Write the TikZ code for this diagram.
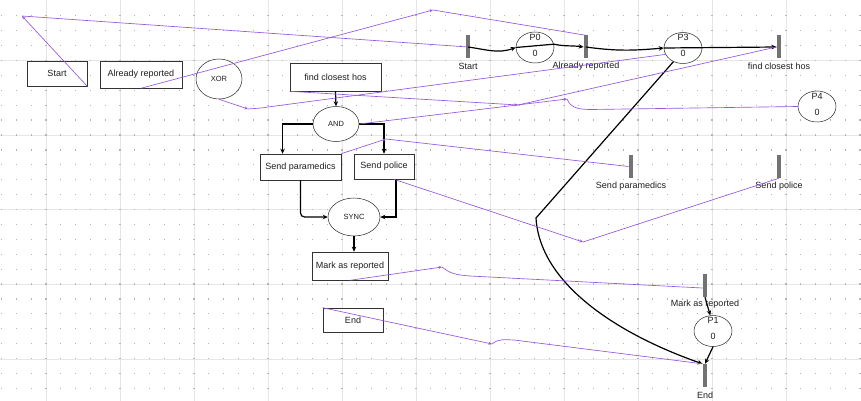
\documentclass[tikz,border=0pt]{standalone}
\usepackage{fontspec}
\setmainfont{Liberation Sans}
\usetikzlibrary{arrows.meta,calc,shapes.geometric}
\definecolor{purp}{RGB}{150,85,225}
\definecolor{bargray}{RGB}{115,115,115}
\definecolor{dotgray}{RGB}{180,180,180}
\definecolor{linegray}{RGB}{230,230,230}
\definecolor{txt}{RGB}{30,30,30}
\begin{document}
\begin{tikzpicture}[x=1pt,y=-1pt,
  font=\fontsize{9}{10}\selectfont, text=txt,
  flowbox/.style={draw=black!80, fill=white, line width=0.6pt, inner sep=0pt},
  gate/.style={ellipse, draw=black!85, fill=white, line width=0.5pt, inner sep=0pt, font=\fontsize{7.5}{9}\selectfont},
  place/.style={ellipse, draw=black!85, fill=white, line width=0.5pt, inner sep=0pt, minimum width=38pt, minimum height=31pt},
  tbar/.style={fill=bargray, minimum width=4.5pt, minimum height=23pt, inner sep=0pt},
  tlabel/.style={inner sep=0pt},
  flow/.style={draw=black, line width=1.2pt, -{Stealth[length=5pt,width=4.5pt]}},
  parc/.style={draw=black, line width=1.2pt, -{Stealth[length=5pt,width=4.5pt]}},
  plink/.style={draw=purp, line width=0.65pt},
  plinkarr/.style={draw=purp, line width=0.65pt, -{Stealth[length=3.5pt,width=3pt]}}
]
% background and grid
\fill[white] (0,0) rectangle (861,401);
\useasboundingbox (0,0) rectangle (861,401);
\foreach \i in {-1,...,9} \draw[linegray, line width=0.6pt] (120+74*\i,0) -- (120+74*\i,401);
\foreach \j in {0,...,4} \draw[linegray, line width=0.6pt] (0,60.3+74.7*\j) -- (861,60.3+74.7*\j);
\foreach \i in {0,...,58} \foreach \j in {0,...,25}
  \fill[dotgray] (1.6+14.8*\i-0.6, 15.8+14.9*\j-0.6) rectangle ++(1.2,1.2);

% ---------- flowchart ----------
\node[flowbox, minimum width=60pt, minimum height=25pt] (sbox) at (57,73.5) {Start};
\node[flowbox, minimum width=82pt, minimum height=27pt] (abox) at (141,74.5) {Already reported};
\node[gate, minimum width=46pt, minimum height=40pt] (xor) at (219,79) {XOR};
\node[flowbox, minimum width=91pt, minimum height=28pt] (nfind) at (335.5,77) {find closest hos};
\node[gate, minimum width=46pt, minimum height=35pt] (and) at (336,124) {AND};
\node[flowbox, minimum width=81pt, minimum height=26pt] (spar) at (300.5,167) {Send paramedics};
\node[flowbox, minimum width=60pt, minimum height=25pt] (spol) at (384,166.5) {Send police};
\node[gate, minimum width=52pt, minimum height=38pt] (sync) at (354,217) {SYNC};
\node[flowbox, minimum width=76pt, minimum height=28pt] (mark) at (350,266) {Mark as reported};
\node[flowbox, minimum width=60pt, minimum height=24pt] (ebox) at (353,320) {End};

\draw[flow] (nfind.south) -- (and.north);
\draw[flow] (and.west) -| ($(spar.north west)!0.28!(spar.north east)$);
\draw[flow] (and.east) -| (spol.north);
\draw[flow, rounded corners=4pt] (spar.south) |- (sync.west);
\draw[flow] ($(spol.south)+(12,0)$) |- (sync.east);
\draw[flow] (sync.south) -- (sync.south |- mark.north);

% ---------- petri net ----------
\node[tbar] (tStart) at (468,47) {};
\node[tlabel] at (468,66) {Start};
\node[tbar] (tAlr) at (586,47) {};
\node[tlabel] at (586,66) {Already reported};
\node[tbar] (tFind) at (779,47) {};
\node[tlabel] at (779,66) {find closest hos};
\node[tbar] (tPar) at (631,166.5) {};
\node[tlabel] at (631,186) {Send paramedics};
\node[tbar] (tPol) at (779,166.5) {};
\node[tlabel] at (779,186) {Send police};
\node[tbar] (tMark) at (705,285.5) {};
\node[tlabel] at (705,304) {Mark as reported};
\node[tbar] (tEnd) at (705,375.5) {};
\node[tlabel] at (705,395) {End};

\node[place] (p0) at (535,47.5) {};
\node[tlabel] at (535,37) {P0};
\node[tlabel] at (535,53) {0};
\node[place] (p3) at (683,48) {};
\node[tlabel] at (683,37) {P3};
\node[tlabel] at (683,53) {0};
\node[place] (p4) at (817,106.5) {};
\node[tlabel] at (817,96) {P4};
\node[tlabel] at (817,112) {0};
\node[place] (p1) at (713,331) {};
\node[tlabel] at (713,320) {P1};
\node[tlabel] at (713,336) {0};

\draw[parc] (tStart.center) to[out=-8,in=200] (p0.west);
\draw[parc] (p0.west) -- (p0.10) to[out=-12,in=172] (tAlr.west);
\draw[parc] (tAlr.center) to[out=-8,in=185] (p3.west);
\draw[parc] (p3.west) -- (tFind.west);
\coordinate (bend) at (536,218);
\draw[parc] (p3.235) -- (bend) .. controls (540,285) and (620,335) .. (tEnd.north west);
\draw[parc] (tMark.south) -- (p1.100);
\draw[parc] (p1.south) -- (tEnd.north);

% ---------- purple links ----------
\coordinate (m1) at (22,16);
\draw[plinkarr] (sbox.south east) -- (m1);
\draw[plink] (m1) -- (tStart.center);

\coordinate (m2) at (433,10);
\draw[plinkarr] (abox.south) -- (m2);
\draw[plink] (m2) -- (tAlr.north);

\coordinate (m3) at (248,109);
\draw[plinkarr] (xor.south) -- (m3);
\draw[plink] (m3) to[out=5,in=190] ($(m3)+(20,-2)$) -- (p3.200);

\coordinate (m4) at (518,105);
\draw[plinkarr] (nfind.south west) -- (m4);
\draw[plink] (m4) -- (tFind.west);

\coordinate (m5) at (567,99);
\coordinate (m5b) at (592,109.5);
\draw[plinkarr] (and.east) -- (m5);
\draw[plink] (m5) to[out=-70,in=180] (m5b) -- (p4.west);

\coordinate (m6) at (386,139);
\draw[plinkarr] (spar.north east) -- (m6);
\draw[plink] (m6) -- (tPar.west);

\coordinate (m7) at (583,242);
\draw[plinkarr] ($(spol.south)+(10,0)$) -- (m7);
\draw[plink] (m7) -- (tPol.south);

\coordinate (m8) at (442,267);
\draw[plinkarr] (mark.south) -- (m8);
\draw[plink] (m8) to[out=-40,in=175] ($(m8)+(28,9)$) -- ($(tMark.west)+(0,2.5)$);

\coordinate (m9) at (492,344);
\draw[plinkarr] (ebox.north west) -- (m9);
\draw[plink] (m9) to[out=40,in=178] ($(m9)+(22,-4)$) -- (tEnd.north west);
\end{tikzpicture}
\end{document}
